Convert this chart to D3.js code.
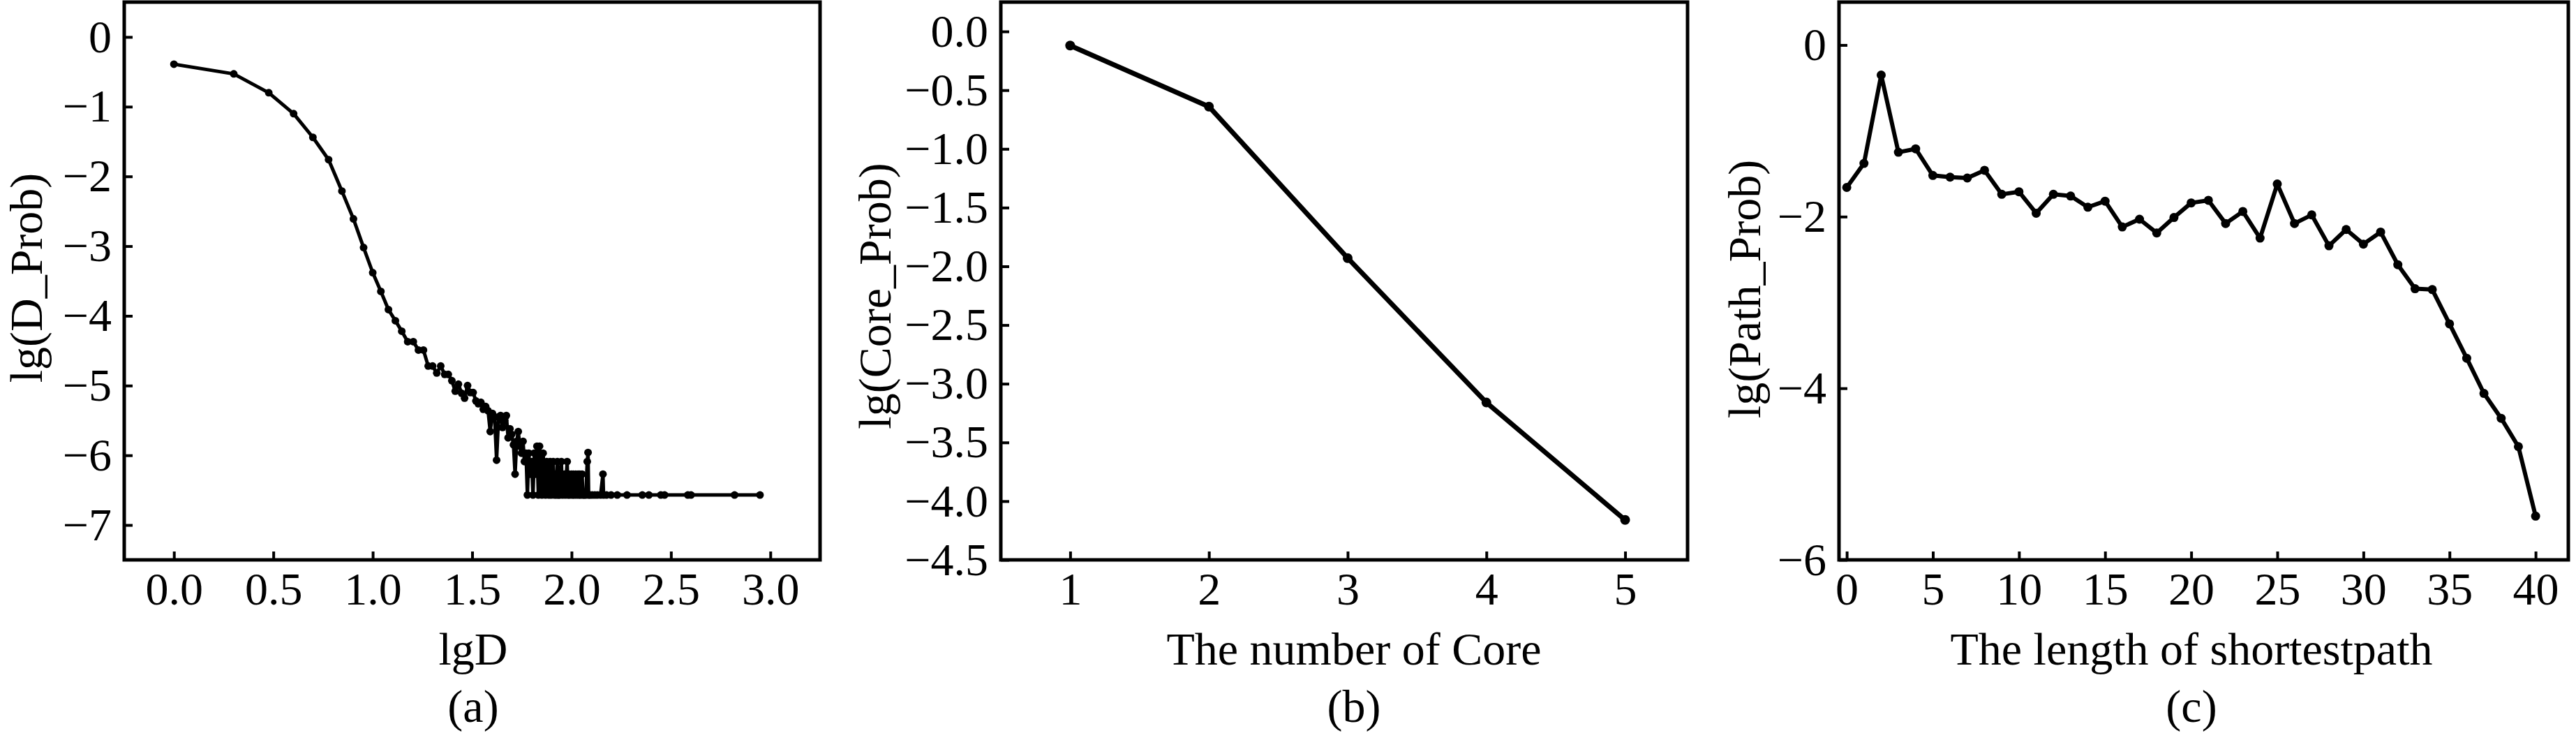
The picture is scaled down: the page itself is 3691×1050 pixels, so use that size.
<!DOCTYPE html>
<html><head><meta charset="utf-8">
<script src="https://cdn.jsdelivr.net/npm/d3@7"></script>
<style>
html,body{margin:0;padding:0;background:#fff;}
svg{display:block;}
text{font-family:"Liberation Serif","Times New Roman",serif;fill:#000;}
</style>
</head><body>
<svg id="chart" width="3691" height="1050"></svg>
<script>
// ---- Panel (a): degree distribution ----
const lgD = [0.000,0.301,0.477,0.602,0.699,0.778,0.845,0.903,0.954,1.000,1.041,1.079,1.114,1.146,1.176,1.204,1.230,1.255,1.279,1.301,1.322,1.342,1.362,1.380,1.398,1.415,1.431,1.447,1.462,1.477,1.491,1.505,1.519,1.531,1.544,1.556,1.568,1.580,1.591,1.602,1.613,1.623,1.633,1.643,1.653,1.663,1.672,1.681,1.690,1.699,1.708,1.716,1.724,1.732,1.740,1.748,1.756,1.763,1.771,1.778,1.785,1.792,1.799,1.806,1.813,1.820,1.826,1.833,1.839,1.845,1.851,1.857,1.863,1.869,1.875,1.881,1.886,1.892,1.898,1.903,1.908,1.914,1.919,1.924,1.929,1.934,1.940,1.944,1.949,1.954,1.964,1.968,1.978,1.982,1.987,1.991,2.000,2.004,2.009,2.013,2.021,2.025,2.033,2.037,2.041,2.045,2.053,2.057,2.064,2.072,2.079,2.083,2.086,2.093,2.104,2.117,2.130,2.146,2.158,2.161,2.176,2.199,2.230,2.279,2.356,2.389,2.449,2.468,2.585,2.601,2.820,2.948];
const lgDProb = [-0.39,-0.53,-0.80,-1.10,-1.44,-1.76,-2.21,-2.61,-3.02,-3.38,-3.65,-3.91,-4.07,-4.22,-4.37,-4.37,-4.49,-4.49,-4.72,-4.72,-4.82,-4.72,-4.84,-4.84,-4.93,-5.08,-4.98,-5.11,-5.18,-5.00,-5.10,-5.10,-5.22,-5.26,-5.24,-5.34,-5.30,-5.36,-5.66,-5.40,-5.45,-6.07,-5.45,-5.43,-5.60,-5.50,-5.43,-5.75,-5.62,-5.70,-5.85,-6.27,-5.80,-5.66,-5.87,-5.97,-5.80,-6.09,-5.97,-6.57,-5.97,-6.27,-6.09,-6.57,-5.97,-6.27,-5.87,-6.57,-5.87,-6.09,-6.57,-5.97,-6.27,-6.57,-6.09,-6.27,-6.57,-6.09,-6.57,-6.27,-6.09,-6.57,-6.27,-6.57,-6.09,-6.57,-6.57,-6.27,-6.09,-6.57,-6.27,-6.57,-6.09,-6.57,-6.27,-6.57,-6.27,-6.57,-6.27,-6.57,-6.27,-6.57,-6.27,-6.57,-6.27,-6.57,-6.27,-6.57,-6.57,-6.57,-6.09,-5.96,-6.57,-6.57,-6.57,-6.57,-6.57,-6.57,-6.27,-6.57,-6.57,-6.57,-6.57,-6.57,-6.57,-6.57,-6.57,-6.57,-6.57,-6.57,-6.57,-6.57];
const ticksAx = [0,0.5,1,1.5,2,2.5,3];
const ticksAy = [0,-1,-2,-3,-4,-5,-6,-7];

// ---- Panel (b): core number ----
const coreNum = [1,2,3,4,5];
const coreProb = [-0.12,-0.64,-1.93,-3.16,-4.16];
const ticksBx = [1,2,3,4,5];
const ticksBy = [0,-0.5,-1,-1.5,-2,-2.5,-3,-3.5,-4,-4.5];

// ---- Panel (c): shortest path length ----
const pathLen = [0,1,2,3,4,5,6,7,8,9,10,11,12,13,14,15,16,17,18,19,20,21,22,23,24,25,26,27,28,29,30,31,32,33,34,35,36,37,38,39,40];
const pathProb = [-1.66,-1.38,-0.35,-1.25,-1.21,-1.52,-1.54,-1.55,-1.46,-1.74,-1.71,-1.96,-1.74,-1.76,-1.89,-1.82,-2.12,-2.03,-2.19,-2.01,-1.84,-1.81,-2.08,-1.94,-2.25,-1.62,-2.08,-1.98,-2.34,-2.15,-2.32,-2.18,-2.56,-2.84,-2.85,-3.25,-3.65,-4.06,-4.35,-4.68,-5.49];
const ticksCx = [0,5,10,15,20,25,30,35,40];
const ticksCy = [0,-2,-4,-6];

const FONT = 66, TOP = 3, BOTTOM = 802;
const panels = [
  {L:178, R:1175, xDom:[-0.25,3.25], yDom:[-7.5,0.5], xt:ticksAx, yt:ticksAy,
   xf:d3.format(".1f"), yf:d3.format("d"), xs:lgD, ys:lgDProb,
   xTitle:"lgD", yTitle:"lg(D_Prob)", tag:"(a)", yTX:60, yTY:398, xTX:678, lw:5, r:5.5},
  {L:1434, R:2418, xDom:[0.5,5.45], yDom:[-4.5,0.25], xt:ticksBx, yt:ticksBy,
   xf:d3.format("d"), yf:d3.format(".1f"), xs:coreNum, ys:coreProb,
   xTitle:"The number of Core", yTitle:"lg(Core_Prob)", tag:"(b)", yTX:1276, yTY:424, xTX:1940, lw:7, r:7},
  {L:2635, R:3680, xDom:[-0.45,41.9], yDom:[-6,0.5], xt:ticksCx, yt:ticksCy,
   xf:d3.format("d"), yf:d3.format("d"), xs:pathLen, ys:pathProb,
   xTitle:"The length of shortestpath", yTitle:"lg(Path_Prob)", tag:"(c)", yTX:2522, yTY:414, xTX:3140, lw:6, r:6.5}
];

const svg = d3.select("#chart");

panels.forEach(p => {
  const x = d3.scaleLinear().domain(p.xDom).range([p.L, p.R]);
  const y = d3.scaleLinear().domain(p.yDom).range([BOTTOM, TOP]);
  const g = svg.append("g");

  const ay = g.append("g").attr("transform", `translate(${p.L},0)`)
    .call(d3.axisLeft(y).tickValues(p.yt).tickFormat(p.yf).tickSizeInner(-12).tickSizeOuter(0).tickPadding(18));
  const ax = g.append("g").attr("transform", `translate(0,${BOTTOM})`)
    .call(d3.axisBottom(x).tickValues(p.xt).tickFormat(p.xf).tickSizeInner(-12).tickSizeOuter(0).tickPadding(17));
  [ax, ay].forEach(a => {
    a.select(".domain").remove();
    a.selectAll(".tick line").attr("stroke", "#000").attr("stroke-width", 4);
    a.selectAll(".tick text").attr("font-size", FONT).attr("font-family", '"Liberation Serif","Times New Roman",serif').attr("fill", "#000");
  });

  g.append("rect").attr("x", p.L).attr("y", TOP).attr("width", p.R - p.L).attr("height", BOTTOM - TOP)
    .attr("fill", "none").attr("stroke", "#000").attr("stroke-width", 5);

  const pts = p.xs.map((v, i) => [v, p.ys[i]]);
  const line = d3.line().x(d => x(d[0])).y(d => y(d[1]));
  g.append("path").datum(pts).attr("d", line).attr("fill", "none")
    .attr("stroke", "#000").attr("stroke-width", p.lw).attr("stroke-linejoin", "round");
  g.selectAll("circle.pt").data(pts).join("circle").attr("class", "pt")
    .attr("cx", d => x(d[0])).attr("cy", d => y(d[1])).attr("r", p.r).attr("fill", "#000");

  g.append("text").attr("x", p.xTX).attr("y", 952).attr("text-anchor", "middle")
    .attr("font-size", FONT).text(p.xTitle);
  g.append("text").attr("x", p.xTX).attr("y", 1034).attr("text-anchor", "middle")
    .attr("font-size", FONT).text(p.tag);
  g.append("text").attr("transform", `translate(${p.yTX},${p.yTY}) rotate(-90)`)
    .attr("text-anchor", "middle").attr("font-size", FONT).text(p.yTitle);
});
</script>
</body></html>
